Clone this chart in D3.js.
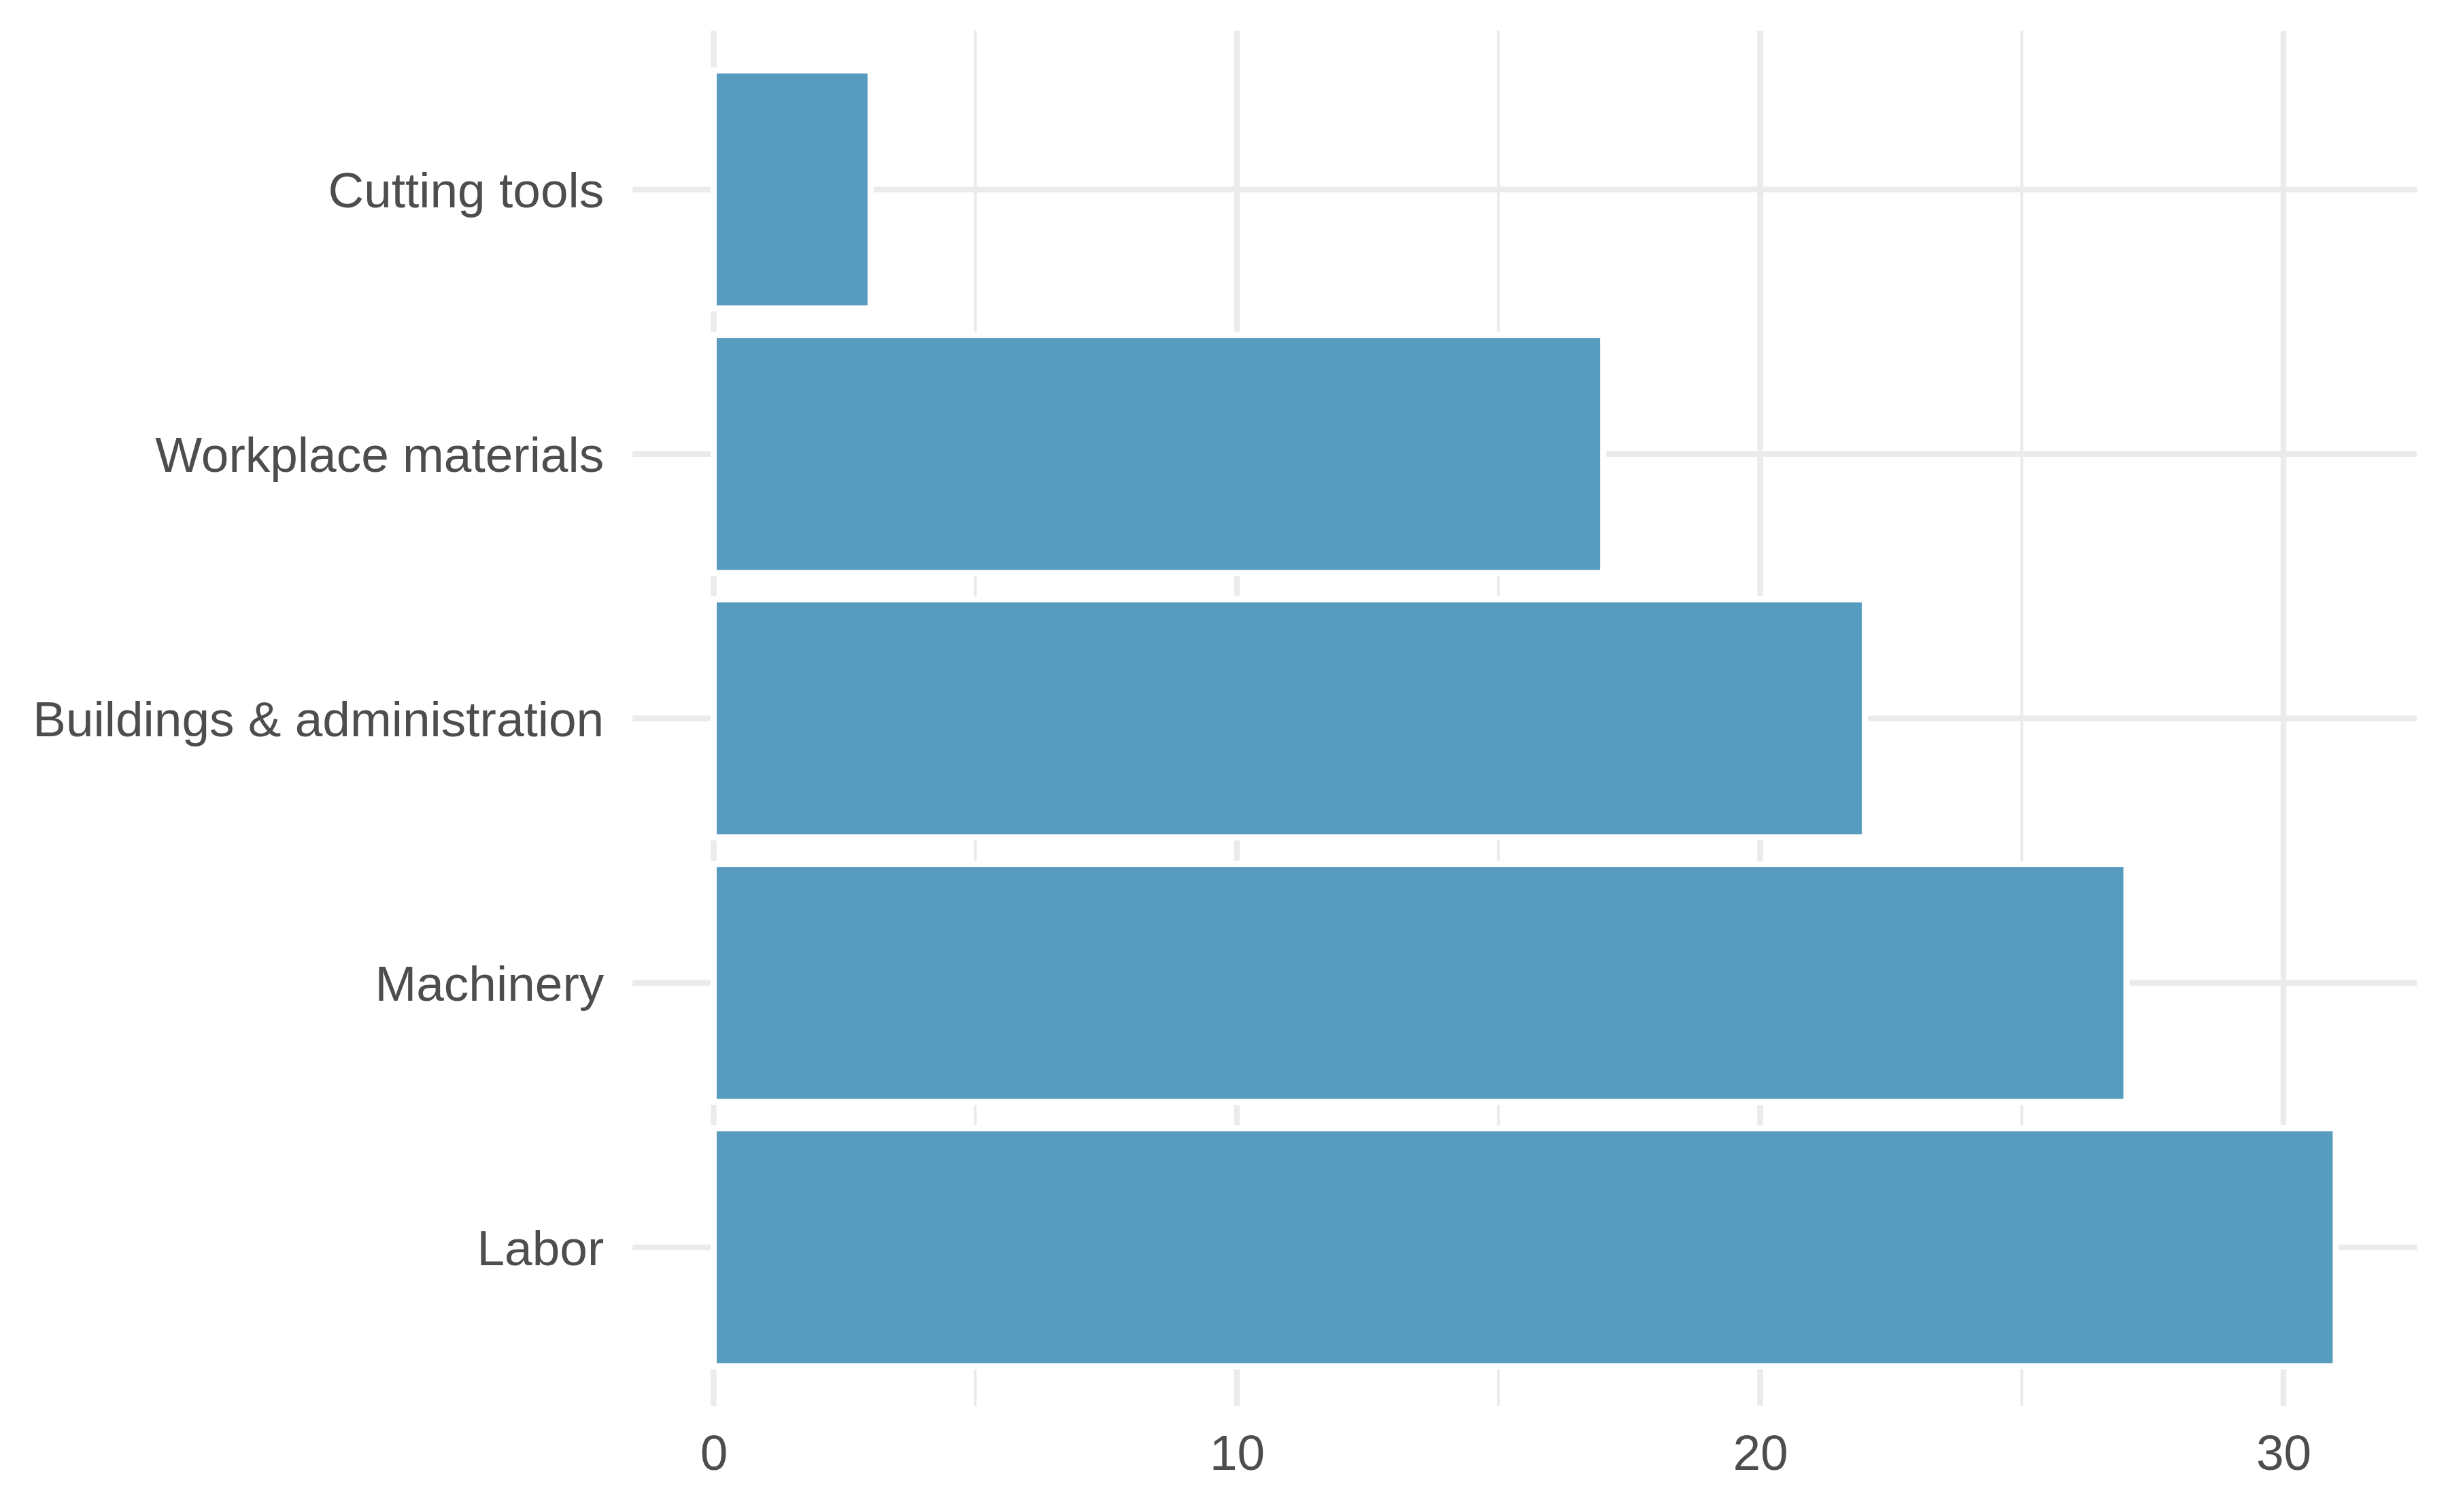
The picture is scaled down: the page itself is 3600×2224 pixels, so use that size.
<!DOCTYPE html>
<html>
<head>
<meta charset="utf-8">
<script src="https://cdn.jsdelivr.net/npm/d3@7"></script>
<style>
  html, body { margin: 0; padding: 0; background: #ffffff; }
  svg { display: block; }
</style>
</head>
<body>
<script>
// ---- Data ----
const categories = ["Cutting tools", "Workplace materials", "Buildings & administration", "Machinery", "Labor"];
const values = [3, 17, 22, 27, 31];
const xTickValues = [0, 10, 20, 30];
const xMinorValues = [5, 15, 25];

// ---- Layout ----
const W = 3600, H = 2224;
const panel = { left: 930.2, right: 3554.2, top: 45.3, bottom: 2068.1 };
const fontSize = 73;
const textColor = "#4D4D4D";
const gridColor = "#EBEBEB";
const barColor = "#579BBF";

const svg = d3.select("body").append("svg")
  .attr("width", W).attr("height", H)
  .attr("viewBox", `0 0 ${W} ${H}`);

svg.append("rect").attr("width", W).attr("height", H).attr("fill", "#ffffff");

const x = d3.scaleLinear()
  .domain([-1.55, 32.55])
  .range([panel.left, panel.right]);

const y = d3.scalePoint()
  .domain(categories)
  .range([panel.top, panel.bottom])
  .padding(0.6);

const step = y.step();
const barH = step * 0.9;

// Grid
const grid = svg.append("g");
grid.selectAll("line.minor").data(xMinorValues).enter().append("line")
  .attr("x1", d => x(d)).attr("x2", d => x(d))
  .attr("y1", panel.top).attr("y2", panel.bottom)
  .attr("stroke", gridColor).attr("stroke-width", 4.3);
grid.selectAll("line.majorx").data(xTickValues).enter().append("line")
  .attr("x1", d => x(d)).attr("x2", d => x(d))
  .attr("y1", panel.top).attr("y2", panel.bottom)
  .attr("stroke", gridColor).attr("stroke-width", 8.5);
grid.selectAll("line.majory").data(categories).enter().append("line")
  .attr("x1", panel.left).attr("x2", panel.right)
  .attr("y1", d => y(d)).attr("y2", d => y(d))
  .attr("stroke", gridColor).attr("stroke-width", 8.5);

// Bars
svg.append("g").selectAll("rect").data(categories).enter().append("rect")
  .attr("x", x(0))
  .attr("y", d => y(d) - barH / 2)
  .attr("width", (d, i) => x(values[i]) - x(0))
  .attr("height", barH)
  .attr("fill", barColor)
  .attr("stroke", "#ffffff")
  .attr("stroke-width", 9);

// Axes (labels only)
const xAxis = svg.append("g")
  .attr("transform", `translate(0,${panel.bottom})`)
  .call(d3.axisBottom(x).tickValues(xTickValues).tickSize(0).tickPadding(42).tickFormat(d3.format("d")));
xAxis.select(".domain").remove();
xAxis.selectAll("text")
  .attr("fill", textColor)
  .style("font-family", "'Liberation Sans', Arial, Helvetica, sans-serif")
  .style("font-size", fontSize + "px");

const yAxis = svg.append("g")
  .attr("transform", `translate(${panel.left},0)`)
  .call(d3.axisLeft(y).tickSize(0).tickPadding(42));
yAxis.select(".domain").remove();
yAxis.selectAll("text")
  .attr("fill", textColor)
  .attr("dy", "0.36em")
  .style("font-family", "'Liberation Sans', Arial, Helvetica, sans-serif")
  .style("font-size", fontSize + "px");
</script>
</body>
</html>
